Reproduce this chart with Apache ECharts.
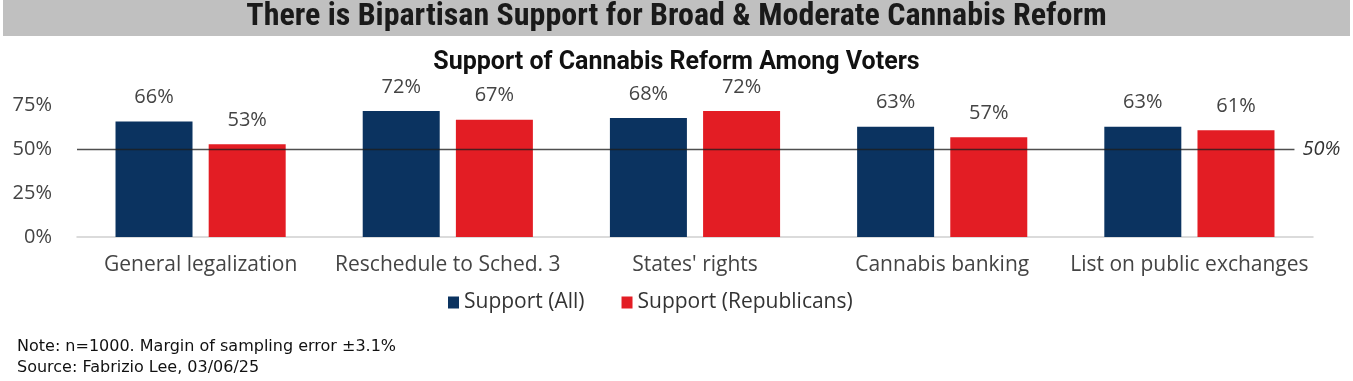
<!DOCTYPE html>
<html>
<head>
<meta charset="utf-8">
<script src="https://cdn.jsdelivr.net/npm/echarts@6/dist/echarts.min.js"></script>
<style>
html,body{margin:0;padding:0;background:#fff;}
#chart{width:1353px;height:381px;}
</style>
</head>
<body>
<div id="chart"></div>
<script>
const categories = ['General legalization', 'Reschedule to Sched. 3', "States' rights", 'Cannabis banking', 'List on public exchanges'];
const supportAll = [66, 72, 68, 63, 63];
const supportRepublicans = [53, 67, 72, 57, 61];
const seriesNames = ['Support (All)', 'Support (Republicans)'];
const referenceValue = 50;
const referenceLineSpan = [0, 0.985]; // fraction of plot width covered by the 50% line
const titleText = 'There is Bipartisan Support for Broad & Moderate Cannabis Reform';
const subtitleText = 'Support of Cannabis Reform Among Voters';
const noteLines = ['Note: n=1000. Margin of sampling error \u00b13.1%', 'Source: Fabrizio Lee, 03/06/25'];

const FONT = '"Open Sans", sans-serif';
const chart = echarts.init(document.getElementById('chart'));
const labelStyle = {
  show: true, position: 'top', distance: 14,
  formatter: p => p.value + '%',
  fontFamily: FONT, fontSize: 20, color: '#444'
};
chart.setOption({
  animation: false,
  backgroundColor: '#fff',
  graphic: [
    { type: 'rect', left: 3, top: 0, shape: { width: 1347, height: 36 }, style: { fill: '#c0c0c0' }, z: 0 },
    { type: 'text', left: 'center', top: 1, style: { text: titleText, font: 'bold 32px "Roboto Condensed", sans-serif', fill: '#1a1a1a' }, z: 2 },
    { type: 'text', left: 17, top: 336, style: { text: noteLines.join('\n'), font: '16px "DejaVu Sans", sans-serif', lineHeight: 21, fill: '#111' } }
  ],
  title: {
    text: subtitleText, left: 'center', top: 45,
    textStyle: { fontFamily: 'Roboto, sans-serif', fontWeight: 'bold', fontSize: 25, color: '#111' }
  },
  legend: {
    data: seriesNames, top: 287, left: 443, itemWidth: 11, itemHeight: 12, itemGap: 37,
    textStyle: { fontFamily: FONT, fontSize: 21, color: '#333' },
    icon: 'rect'
  },
  grid: { left: 77, right: 40, top: 62, bottom: 144 },
  xAxis: [{
    type: 'category', data: categories,
    axisLine: { lineStyle: { color: '#d0d0d0', width: 1.5 } },
    axisTick: { show: false },
    axisLabel: { interval: 0, fontFamily: FONT, fontSize: 21, color: '#444', margin: 18 }
  }, {
    type: 'value', min: 0, max: 1, show: false
  }],
  yAxis: {
    type: 'value', min: 0, max: 100, interval: 25,
    splitLine: { show: false },
    axisLine: { show: false }, axisTick: { show: false },
    axisLabel: {
      fontFamily: FONT, fontSize: 20, color: '#444', margin: 25,
      formatter: v => v === 100 ? '' : v + '%'
    }
  },
  series: [
    {
      name: seriesNames[0], type: 'bar', data: supportAll, barWidth: 77, barGap: '21%',
      itemStyle: { color: '#0b3360' }, label: labelStyle
    },
    {
      name: seriesNames[1], type: 'bar', data: supportRepublicans, barWidth: 77,
      itemStyle: { color: '#e31d24' }, label: labelStyle
    },
    {
      name: 'ref', type: 'line', xAxisIndex: 1, z: 5, silent: true,
      data: referenceLineSpan.map(f => [f, referenceValue]),
      symbol: 'none',
      lineStyle: { color: 'rgba(30,30,30,0.78)', width: 1.5 },
      endLabel: {
        show: true, formatter: referenceValue + '%', distance: 8,
        fontFamily: FONT, fontStyle: 'italic', fontSize: 20, color: '#333'
      }
    }
  ]
});
</script>
</body>
</html>
